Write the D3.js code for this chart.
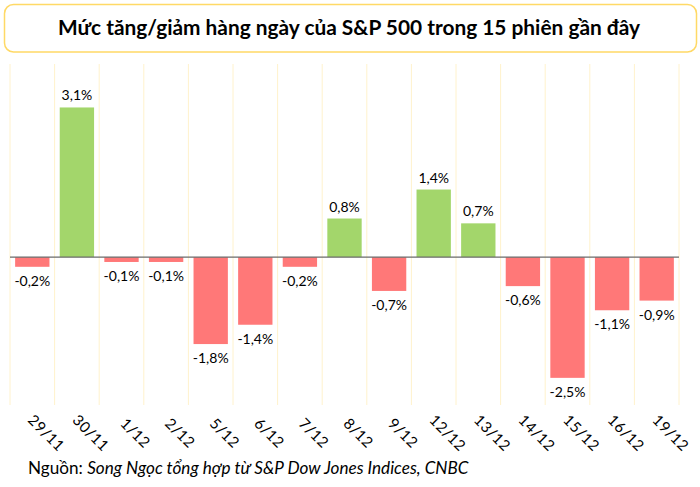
<!DOCTYPE html>
<html>
<head>
<meta charset="utf-8">
<script src="https://cdn.jsdelivr.net/npm/d3@7"></script>
<style>
  html, body { margin: 0; padding: 0; background: #fff; }
  svg { display: block; }
  text { font-family: Lato, "Open Sans", sans-serif; }
</style>
</head>
<body>
<svg id="chart" width="700" height="487"></svg>
<script>
const title = "Mức tăng/giảm hàng ngày của S&P 500 trong 15 phiên gần đây";
const sourceLabel = "Nguồn: ";
const sourceText = "Song Ngọc tổng hợp từ S&P Dow Jones Indices, CNBC";
const categories = ["29/11","30/11","1/12","2/12","5/12","6/12","7/12","8/12","9/12","12/12","13/12","14/12","15/12","16/12","19/12"];
const values = [-0.2, 3.1, -0.1, -0.1, -1.8, -1.4, -0.2, 0.8, -0.7, 1.4, 0.7, -0.6, -2.5, -1.1, -0.9];
const yDomain = [-3, 4];

const svg = d3.select("#chart");
const plot = { left: 10, right: 679, top: 64, bottom: 402 };

// Title box
svg.append("rect")
  .attr("x", 4.5).attr("y", 4.5).attr("width", 692).attr("height", 47.5)
  .attr("rx", 9).attr("ry", 9)
  .attr("fill", "#fff").attr("stroke", "#FFD966").attr("stroke-width", 1.5);

const t = svg.append("text")
  .attr("x", 349).attr("y", 35)
  .attr("text-anchor", "middle")
  .attr("font-weight", 700)
  .attr("font-size", 20)
  .attr("fill", "#000")
  .text(title);
let tw = t.node().getComputedTextLength();
t.attr("font-size", 20 * 582 / tw);

const x = d3.scaleBand()
  .domain(categories)
  .range([plot.left, plot.right])
  .paddingInner(0.23)
  .paddingOuter(0.115);

const y = d3.scaleLinear().domain(yDomain).range([plot.bottom, plot.top]);

// vertical gridlines at band boundaries
const step = x.step();
const bounds = d3.range(categories.length + 1).map(i => plot.left + i * step);
svg.append("g").selectAll("line")
  .data(bounds)
  .join("line")
  .attr("x1", d => d).attr("x2", d => d)
  .attr("y1", plot.top).attr("y2", plot.bottom + 3)
  .attr("stroke", "#FFF2CC").attr("stroke-width", 1);

// bars
svg.append("g").selectAll("rect")
  .data(values)
  .join("rect")
  .attr("x", (d, i) => x(categories[i]))
  .attr("width", x.bandwidth())
  .attr("y", d => y(Math.max(0, d)))
  .attr("height", d => Math.abs(y(d) - y(0)))
  .attr("fill", d => d >= 0 ? "#A3D66B" : "#FF7878");

// zero line
svg.append("line")
  .attr("x1", plot.left).attr("x2", plot.right)
  .attr("y1", y(0)).attr("y2", y(0))
  .attr("stroke", "#6b6b6b").attr("stroke-width", 1.2);

// value labels
const fmt = v => (v < 0 ? "-" : "") + Math.abs(v).toFixed(1).replace(".", ",") + "%";
svg.append("g").selectAll("text")
  .data(values)
  .join("text")
  .attr("x", (d, i) => x(categories[i]) + x.bandwidth() / 2)
  .attr("y", d => d >= 0 ? y(d) - 7 : y(d) + 19)
  .attr("text-anchor", "middle")
  .attr("font-size", 14)
  .attr("fill", "#000")
  .text(fmt);

// x-axis labels rotated 45°
svg.append("g").selectAll("text")
  .data(categories)
  .join("text")
  .attr("transform", d => `translate(${x(d) + x.bandwidth() / 2 + 14},433) rotate(45)`)
  .attr("text-anchor", "middle")
  .attr("dy", "0.35em")
  .attr("font-size", 15)
  .attr("letter-spacing", 0.5)
  .attr("fill", "#000")
  .text(d => d);

// source
const src = svg.append("text")
  .attr("x", 28).attr("y", 474)
  .attr("font-size", 15)
  .attr("fill", "#000");
src.append("tspan").text(sourceLabel);
src.append("tspan").attr("font-style", "italic").text(sourceText);
const sw = src.node().getComputedTextLength();
src.attr("font-size", 15 * 441 / sw);
</script>
</body>
</html>
